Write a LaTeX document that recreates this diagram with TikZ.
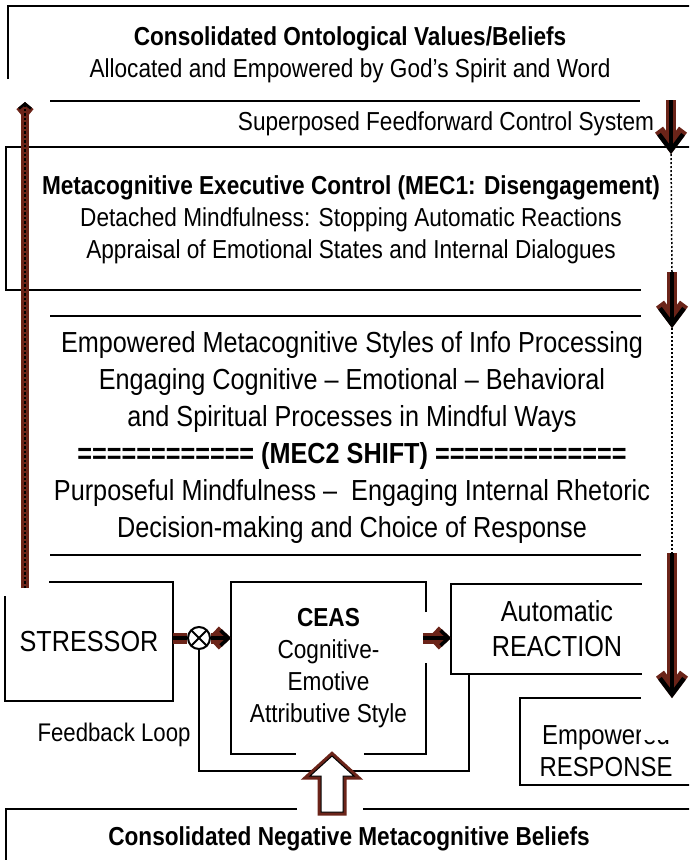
\documentclass[tikz,border=0pt]{standalone}
\usepackage{fontspec}
\setmainfont{Liberation Sans}[FakeStretch=0.87]
\usetikzlibrary{arrows.meta}
\definecolor{rust}{RGB}{107,36,25}

\begin{document}
\begin{tikzpicture}[
    x=1pt, y=-1pt,
    line width=1.8pt,
    txt/.style={align=center, inner sep=0pt},
    fsmall/.style={font=\fontsize{26}{32}\selectfont},
    flarge/.style={font=\fontsize{29}{37}\selectfont},
    fbox/.style={font=\fontsize{29}{35}\selectfont},
    ffarrow/.style={
        line width=4.5pt,
        -{Straight Barb[length=16pt, width=24pt]},
        preaction={draw=rust, line width=10pt}
    },
    flow/.style={
        line width=3.5pt,
        -{Straight Barb[length=8pt, width=15pt]},
        preaction={draw=rust, line width=11pt}
    },
    fbarrow/.style={
        line width=2.5pt,
        dash pattern=on 2.5pt off 2pt,
        -{Straight Barb[length=5pt, width=12pt]},
        preaction={draw=rust, line width=8pt, solid}
    },
    link/.style={line width=1.5pt, dash pattern=on 2pt off 2pt},
    hollow/.style={fill=white, line width=1pt, preaction={draw=rust, line width=7pt}},
    mask/.style={fill=white, draw=none}
]

    \useasboundingbox (0,0) rectangle (689,860);
    \clip (0,0) rectangle (689,860);

    % Top frame
    \node[txt, fsmall] (ontol) at (350,55)
        {\textbf{Consolidated Ontological Values/Beliefs}\\
         Allocated and Empowered by God’s Spirit and Word};
    \draw (8,79) |- (700,6);
    \draw (50,101) -- (640,101);

    \node[txt, fsmall, anchor=east] (ffcs) at (655,124)
        {Superposed Feedforward Control System};

    % MEC1 frame
    \node[txt, fsmall] (mec1) at (351,220)
        {\textbf{Metacognitive Executive Control (MEC1: Disengagement)}\\
         Detached Mindfulness: Stopping Automatic Reactions\\
         Appraisal of Emotional States and Internal Dialogues};
    \draw (700,147) -| (6,290) -- (641,290);

    % MEC2 block
    \draw (50,316) -- (641,316);
    \node[txt, flarge] (styles) at (352,437)
        {Empowered Metacognitive Styles of Info Processing\\
         Engaging Cognitive – Emotional – Behavioral\\
         and Spiritual Processes in Mindful Ways\\
         \textbf{============ (MEC2 SHIFT) =============}\\
         Purposeful Mindfulness – \ Engaging Internal Rhetoric\\
         Decision-making and Choice of Response};
    \draw (50,555) -- (641,555);

    % Bottom row
    \node[txt, fbox, minimum width=166pt, minimum height=117pt] (stressor) at (89,641.5) {STRESSOR};
    \draw ([xshift=44pt]stressor.north west) -| (stressor.south east)
        -| ([yshift=-14pt]stressor.north west);

    \node[
        draw,
        circle,
        fill=white,
        line width=2pt,
        minimum size=22pt,
        inner sep=0pt,
        path picture={
            \draw (path picture bounding box.north west) -- (path picture bounding box.south east);
            \draw (path picture bounding box.north east) -- (path picture bounding box.south west);
        }
    ] (sum) at (199,638) {};

    \node[txt, fsmall, minimum width=193pt, minimum height=170pt] (ceas) at (328.5,668)
        {\textbf{CEAS}\\ Cognitive-\\ Emotive\\ Attributive Style};
    \draw ([yshift=-30pt]ceas.north east) -- (ceas.north east) -- (ceas.north west)
        -- (ceas.south west) -- ([xshift=65pt]ceas.south west);
    \draw ([xshift=-62pt]ceas.south east) -- (ceas.south east) -- ([yshift=-81pt]ceas.north east);

    \node[txt, fbox, minimum width=210pt, minimum height=88pt] (auto) at (557,629)
        {Automatic\\ REACTION};
    \draw ([xshift=-21pt]auto.north east) -- (auto.north west) -- (auto.south west)
        -- ([xshift=-21pt]auto.south east);

    \node[txt, font=\fontsize{25.5}{30}\selectfont] (fbl) at (114,735) {Feedback Loop};

    \draw (642,698) -| (520,785) -- (700,785);
    \node[txt, font=\fontsize{27.5}{32}\selectfont] (resp) at (606,751) {Empowered\\ RESPONSE};
    \fill[mask] (641,690) rectangle (689,740);

    % Bottom frame
    \draw (297,809) -| (6,870);
    \draw (363,809) -- (700,809);
    \node[txt, fsmall] (negbel) at (349,839)
        {\textbf{Consolidated Negative Metacognitive Beliefs}};

    % Feedback loop and belief input
    \coordinate (fbcorner) at (469,771);
    \draw (sum.south) |- (fbcorner) -- (fbcorner |- auto.south);
    \draw[hollow] (332,756) -- (354,776) -- (343,776) -- (343,812)
        -- (321,812) -- (321,776) -- (310,776) -- cycle;

    % Flow arrows
    \draw[flow, -] (stressor.east |- sum) -- (sum.west);
    \draw[flow] (sum.east) -- (sum -| ceas.west);
    \draw[flow] ([xshift=-3pt]ceas.east |- sum) -- (sum -| auto.west);

    % Feedforward arrows
    \coordinate (ffa) at (671,100);
    \coordinate (ffb) at (671,154);
    \coordinate (ffc) at (672,272);
    \coordinate (ffd) at (672,328);
    \coordinate (ffe) at (672,553);
    \coordinate (fff) at (672,698);
    \draw[link] (ffb) -- (ffc);
    \draw[link] (ffd) -- (ffe);
    \draw[ffarrow] (ffa) -- (ffb);
    \draw[ffarrow] (ffc) -- (ffd);
    \draw[ffarrow] (ffe) -- (fff);

    % Feedback arrow
    \draw[fbarrow] (25,588) -- (25,102);

\end{tikzpicture}
\end{document}
